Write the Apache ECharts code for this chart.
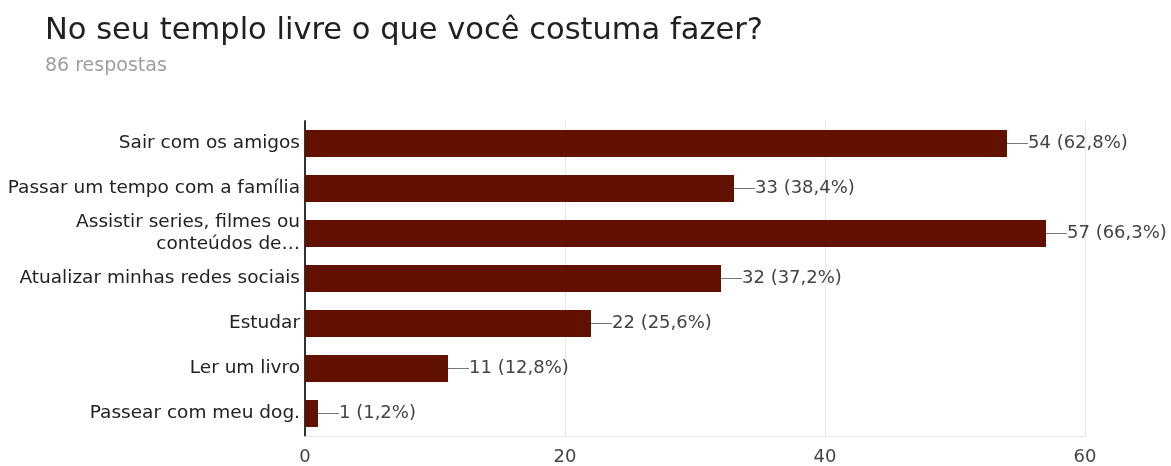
<!DOCTYPE html>
<html>
<head>
<meta charset="utf-8">
<script src="https://cdn.jsdelivr.net/npm/echarts@6/dist/echarts.min.js"></script>
<style>
html,body{margin:0;padding:0;background:#fff;}
#chart{width:1171px;height:466px;}
</style>
</head>
<body>
<div id="chart"></div>
<script>
const titleText = 'No seu templo livre o que você costuma fazer?';
const subtitleText = '86 respostas';
const categories = [
  'Sair com os amigos',
  'Passar um tempo com a família',
  'Assistir series, filmes ou\nconteúdos de…',
  'Atualizar minhas redes sociais',
  'Estudar',
  'Ler um livro',
  'Passear com meu dog.'
];
const counts = [54, 33, 57, 32, 22, 11, 1];
const percents = ['62,8%', '38,4%', '66,3%', '37,2%', '25,6%', '12,8%', '1,2%'];
const xTicks = [0, 20, 40, 60];

const FONT = '"DejaVu Sans", sans-serif';
const chart = echarts.init(document.getElementById('chart'), null, {renderer: 'canvas'});
chart.setOption({
  animation: false,
  backgroundColor: '#fff',
  title: [{
    text: titleText,
    left: 40, top: 11,
    textStyle: {fontFamily: FONT, fontSize: 30.5, fontWeight: 'normal', color: '#212121'}
  }, {
    text: subtitleText,
    left: 40, top: 52,
    textStyle: {fontFamily: FONT, fontSize: 19, fontWeight: 'normal', color: '#9e9e9e'}
  }],
  grid: {left: 305, right: 86, top: 121, bottom: 28, containLabel: false},
  xAxis: {
    type: 'value', min: 0, max: 60, interval: 20,
    axisLine: {show: true, lineStyle: {color: '#e6e6e6', width: 1}},
    axisTick: {show: false},
    splitLine: {show: true, lineStyle: {color: '#e6e6e6', width: 1}},
    axisLabel: {
      fontFamily: FONT, fontSize: 18, color: '#444', margin: 12,
      formatter: v => xTicks.includes(v) ? String(v) : ''
    }
  },
  yAxis: {
    type: 'category', inverse: true, data: categories,
    axisLine: {show: true, lineStyle: {color: '#333', width: 2}},
    axisTick: {show: false},
    axisLabel: {fontFamily: FONT, fontSize: 18.5, color: '#222', margin: 5, lineHeight: 22, align: 'right'}
  },
  series: [{
    type: 'bar',
    data: counts,
    barWidth: 27,
    itemStyle: {color: '#621100'},
    label: {
      show: true, position: 'right', distance: 0,
      fontFamily: FONT, fontSize: 18, color: '#444',
      formatter: p => p.value + ' (' + percents[p.dataIndex] + ')'
    },
    labelLayout: {dx: 21},
    labelLine: {show: true, lineStyle: {color: '#777', width: 1}}
  }]
});
</script>
</body>
</html>
